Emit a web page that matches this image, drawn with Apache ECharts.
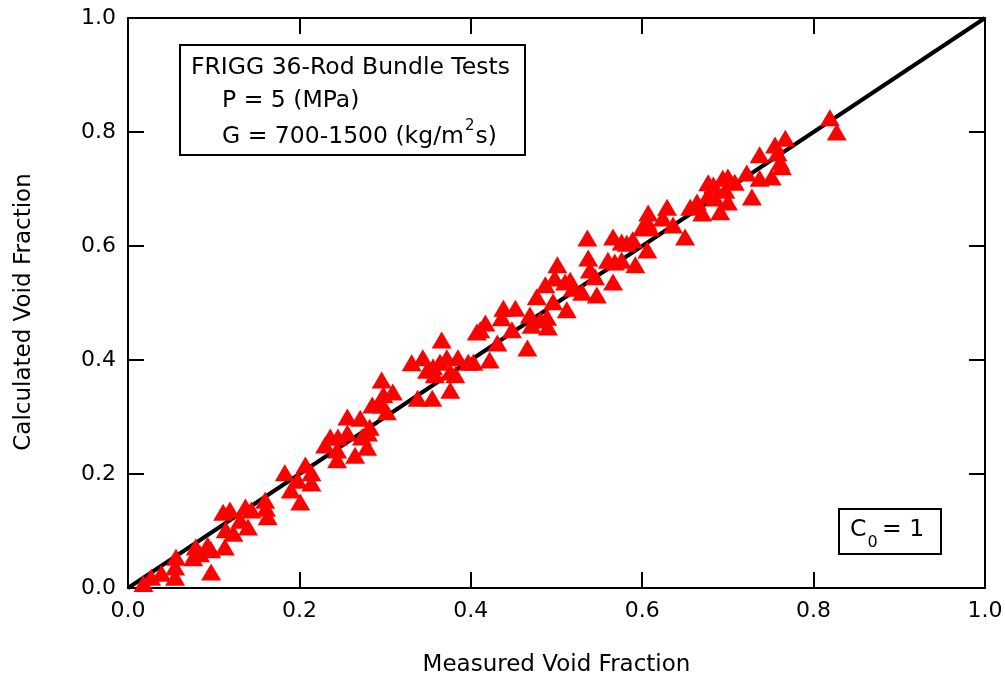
<!DOCTYPE html>
<html>
<head>
<meta charset="utf-8">
<script src="https://cdn.jsdelivr.net/npm/echarts@6/dist/echarts.min.js"></script>
<style>html,body{margin:0;padding:0;background:#fff;}#c{width:1005px;height:675px;}</style>
</head>
<body>
<div id="c"></div>
<script>
var measured = [0.018,0.027,0.039,0.055,0.055,0.056,0.076,0.079,0.084,0.097,0.093,0.097,0.113,0.114,0.123,0.111,0.119,0.131,0.140,0.137,0.144,0.160,0.161,0.163,0.183,0.190,0.198,0.201,0.207,0.214,0.214,0.230,
0.236,0.245,0.256,0.244,0.244,0.265,0.256,0.271,0.273,0.280,0.282,0.279,0.285,0.296,0.298,0.309,0.302,0.296,0.338,0.355,0.331,0.344,0.349,0.356,0.364,0.372,0.358,0.376,0.382,0.366,0.376,0.385,0.397,0.403,0.407,
0.417,0.411,0.431,0.438,0.436,0.452,0.448,0.466,0.469,0.471,0.477,0.481,0.489,0.490,0.487,0.496,0.498,0.501,0.512,0.516,0.510,0.519,0.530,0.547,0.536,0.537,0.539,0.545,0.566,0.560,0.568,0.576,0.566,0.576,0.582,0.422,
0.589,0.592,0.606,0.607,0.606,0.600,0.609,0.629,0.624,0.636,0.650,0.656,0.664,0.670,0.677,0.683,0.677,0.685,0.691,0.694,0.700,0.708,0.700,0.722,0.728,0.737,0.737,0.751,0.755,0.767,0.758,0.761,0.763,0.819,0.827,0.294,0.697];
var calculated = [0.008,0.019,0.026,0.019,0.037,0.054,0.053,0.072,0.060,0.028,0.075,0.067,0.072,0.102,0.096,0.133,0.137,0.119,0.107,0.142,0.137,0.154,0.140,0.125,0.202,0.172,0.189,0.151,0.216,0.202,0.184,0.251,
0.265,0.265,0.272,0.225,0.242,0.233,0.300,0.298,0.265,0.272,0.282,0.247,0.321,0.365,0.339,0.344,0.309,0.321,0.333,0.333,0.395,0.404,0.382,0.388,0.396,0.404,0.374,0.379,0.374,0.435,0.347,0.404,0.396,0.396,0.449,
0.465,0.453,0.430,0.491,0.474,0.491,0.453,0.421,0.479,0.461,0.511,0.470,0.475,0.458,0.532,0.502,0.544,0.567,0.488,0.540,0.537,0.526,0.519,0.514,0.614,0.579,0.558,0.546,0.537,0.575,0.572,0.575,0.616,0.607,0.605,0.400,
0.611,0.567,0.593,0.658,0.642,0.632,0.632,0.668,0.649,0.637,0.616,0.668,0.677,0.658,0.711,0.707,0.689,0.684,0.660,0.719,0.721,0.712,0.677,0.728,0.686,0.760,0.719,0.721,0.777,0.789,0.763,0.747,0.739,0.825,0.800,0.326,0.698];
var identityLine = [[0,0],[1,1]];
var xTitle = 'Measured Void Fraction';
var yTitle = 'Calculated Void Fraction';
var boxLine1 = 'FRIGG 36-Rod Bundle Tests';
var boxLine2 = 'P = 5 (MPa)';
var boxLine3a = 'G = 700-1500 (kg/m';
var boxLine3b = 's)';

var pts = measured.map(function(v,i){return [v, calculated[i]];});
var F = 'DejaVu Sans';
var chart = echarts.init(document.getElementById('c'), null, {renderer:'canvas'});

var mctx = document.createElement('canvas').getContext('2d');
function tw(t, size){ mctx.font = size + 'px "DejaVu Sans"'; return mctx.measureText(t).width; }

// axis that only carries labels and the title
function labelAxis(pos){
  return {show:true, type:'value', min:0, max:1, interval:0.2, position:pos,
    axisLine:{show:false}, axisTick:{show:false}, splitLine:{show:false},
    axisLabel:{show:true, fontSize:22, color:'#000', fontFamily:F, margin:12,
      formatter:function(v){return v.toFixed(1);}}};
}
// axis that only carries the frame line and inside ticks (kept as plain as the test page that worked)
function tickAxis(pos){
  return {type:'value', min:0, max:1, interval:0.2, position:pos,
    axisLine:{show:true, onZero:false, lineStyle:{color:'#000', width:2}},
    axisTick:{show:true, inside:true, length:16, lineStyle:{color:'#000', width:2}},
    splitLine:{show:false},
    axisLabel:{show:false}};
}
var xb = labelAxis('bottom'); xb.name=xTitle; xb.nameLocation='middle'; xb.nameGap=66;
xb.nameTextStyle={color:'#000', fontSize:23, fontFamily:F};
var yl = labelAxis('left'); yl.name=yTitle; yl.nameLocation='middle'; yl.nameGap=92;
yl.nameTextStyle={color:'#000', fontSize:23, fontFamily:F, padding:[0,18,0,0]};

var textEl = function(t,x,y,size){
  return {type:'text', z:11, style:{text:t, x:x, y:y, font: size+'px "DejaVu Sans"', fill:'#000', align:'left', verticalAlign:'middle', textAlign:'left', textVerticalAlign:'middle'}};
};
var FS = 23.5;
var g3x = 222;
var supX = g3x + tw(boxLine3a, FS) + 1;
var afterSup = supX + tw('2', 15) + 1;
var cX = 850;
var subX = cX + tw('C', FS) + 1;
var eqX = 882;

chart.setOption({
  animation:false,
  backgroundColor:'#fff',
  grid:{left:128, right:20, top:18, bottom:87, outerBoundsMode:'none'},
  xAxis:[tickAxis('bottom'), tickAxis('top'), xb],
  yAxis:[tickAxis('left'), tickAxis('right'), yl],
  series:[
    {type:'line', data:identityLine, symbol:'none', lineStyle:{color:'#000', width:4}, z:2},
    {type:'scatter', data:pts, symbol:'triangle', symbolSize:[20,17], itemStyle:{color:'#ff0000', opacity:1}, z:3},
    {type:'scatter', xAxisIndex:1, yAxisIndex:1, data:[]},
    {type:'scatter', xAxisIndex:2, yAxisIndex:2, data:[]}
  ],
  graphic:[
    {type:'rect', z:10, shape:{x:180, y:45, width:345, height:110}, style:{fill:'#fff', stroke:'#000', lineWidth:2}},
    textEl(boxLine1,191,68,FS),
    textEl(boxLine2,222,101,FS),
    textEl(boxLine3a,g3x,137,FS),
    textEl('2',supX,126,15),
    textEl(boxLine3b,afterSup,137,FS),
    {type:'rect', z:10, shape:{x:839, y:509, width:102, height:45}, style:{fill:'#fff', stroke:'#000', lineWidth:2}},
    textEl('C',cX,530,FS),
    textEl('0',subX,543,16),
    textEl('= 1',eqX,530,FS)
  ]
});
</script>
</body>
</html>
